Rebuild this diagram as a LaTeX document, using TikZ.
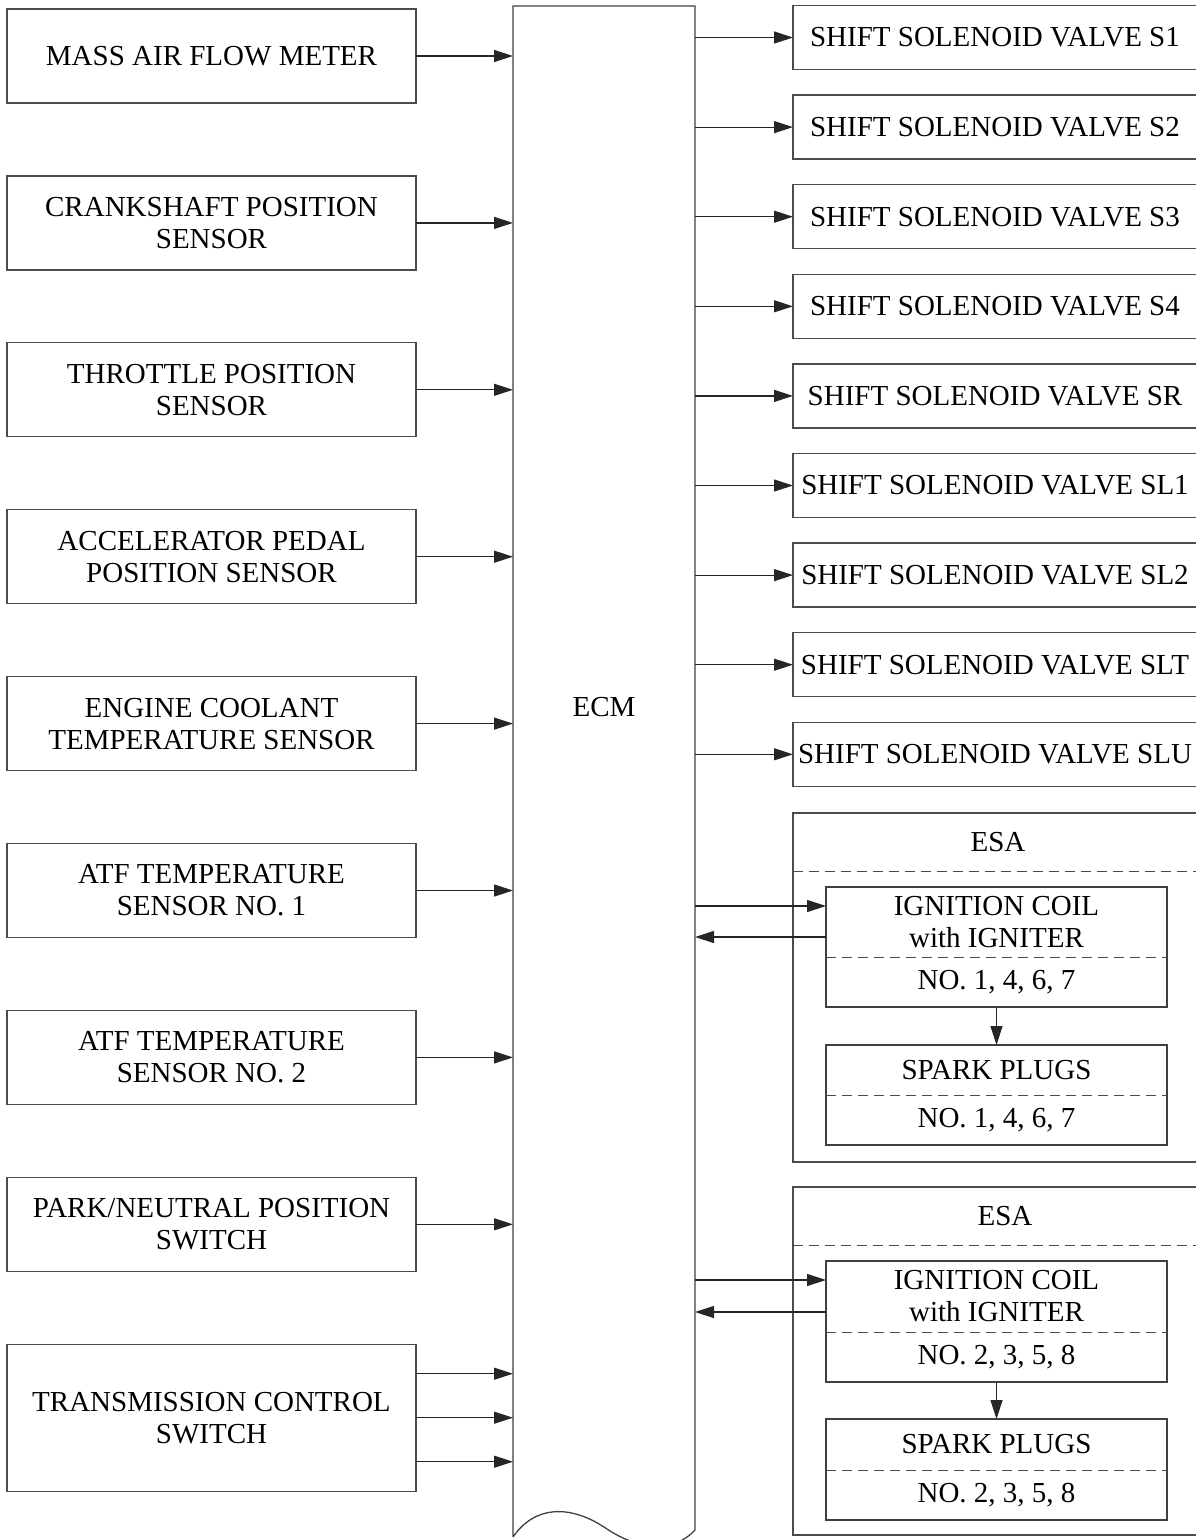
\documentclass[tikz,border=0pt]{standalone}
\usepackage{fontspec}
\setmainfont{Liberation Serif}
\usepackage{tikz}
\usetikzlibrary{arrows.meta, positioning, fit}
\newcommand{\boxfont}{\fontsize{29}{32}\selectfont}
\tikzset{
  sensor/.style = {rectangle, draw=black!70, line width=1.3pt, minimum width=409pt,
                   minimum height=94pt, align=center, font=\boxfont, inner sep=0pt,
                   outer sep=0pt},
  valve/.style  = {rectangle, draw=black!70, line width=1.3pt, minimum width=404pt,
                   minimum height=64pt, align=center, font=\boxfont, inner sep=0pt,
                   outer sep=0pt},
  esa/.style    = {rectangle, draw=black!70, line width=1.3pt, minimum width=410pt,
                   inner sep=0pt, outer sep=0pt},
  part/.style   = {rectangle, minimum width=341pt, align=center, font=\boxfont,
                   inner sep=0pt, outer sep=0pt},
  unit/.style   = {rectangle, draw=black!75, line width=1.3pt, inner sep=0pt, outer sep=0pt},
  sep/.style    = {draw=black!70, line width=1pt, dash pattern=on 10pt off 6pt},
  fl/.style     = {-{Triangle[length=19pt, width=12pt]}, draw=black!85, line width=1.2pt},
}

\begin{document}
\begin{tikzpicture}[x=1pt, y=-1pt, node distance=72.9pt]
  \useasboundingbox (0,0) rectangle (1195,1540);

  % inputs
  \node[sensor] at (211.5,56) (maf)  {MASS AIR FLOW METER};
  \node[sensor, below=of maf]  (ckp)  {CRANKSHAFT POSITION\\SENSOR};
  \node[sensor, below=of ckp]  (tps)  {THROTTLE POSITION\\SENSOR};
  \node[sensor, below=of tps]  (app)  {ACCELERATOR PEDAL\\POSITION SENSOR};
  \node[sensor, below=of app]  (ect)  {ENGINE COOLANT\\TEMPERATURE SENSOR};
  \node[sensor, below=of ect]  (atf1) {ATF TEMPERATURE\\SENSOR NO. 1};
  \node[sensor, below=of atf1] (atf2) {ATF TEMPERATURE\\SENSOR NO. 2};
  \node[sensor, below=of atf2] (pnp)  {PARK/NEUTRAL POSITION\\SWITCH};
  \node[sensor, below=of pnp, minimum height=147pt] (tcs) {TRANSMISSION CONTROL\\SWITCH};

  % ECM
  \node[minimum width=182pt, minimum height=1531pt, inner sep=0pt, outer sep=0pt,
        anchor=north west] at (513,6) (ecm) {};
  \node[font=\boxfont] at (604,707) (ecmlabel) {ECM};
  \draw[draw=black!75, line width=1.3pt] (ecm.south west) -- (ecm.north west) -- (ecm.north east)
    -- ([yshift=7pt]ecm.south east)
    .. controls (675,1552) and (640,1552) .. (604,1527)
    .. controls (570,1505) and (535,1505) .. (ecm.south west);

  % outputs
  \node[valve] at (995,37.5) (s1) {SHIFT SOLENOID VALVE S1};
  \node[valve, below=25.6pt of s1]  (s2)  {SHIFT SOLENOID VALVE S2};
  \node[valve, below=25.6pt of s2]  (s3)  {SHIFT SOLENOID VALVE S3};
  \node[valve, below=25.6pt of s3]  (s4)  {SHIFT SOLENOID VALVE S4};
  \node[valve, below=25.6pt of s4]  (sr)  {SHIFT SOLENOID VALVE SR};
  \node[valve, below=25.6pt of sr]  (sl1) {SHIFT SOLENOID VALVE SL1};
  \node[valve, below=25.6pt of sl1] (sl2) {SHIFT SOLENOID VALVE SL2};
  \node[valve, below=25.6pt of sl2] (slt) {SHIFT SOLENOID VALVE SLT};
  \node[valve, below=25.6pt of slt] (slu) {SHIFT SOLENOID VALVE SLU};

  % ESA, cylinders 1, 4, 6, 7
  \node[esa, anchor=north west, minimum height=349pt] at (793,813) (esa1) {};
  \node[part, minimum width=410pt, minimum height=58pt, anchor=north] at (esa1.north) (esa1t) {ESA};
  \draw[sep] (esa1t.south west) -- (esa1t.south east);
  \node[part, minimum height=70pt, anchor=north] at (996.5,887) (ign1a) {IGNITION COIL\\with IGNITER};
  \node[part, minimum height=50pt, below=0pt of ign1a] (ign1b) {NO. 1, 4, 6, 7};
  \node[unit, fit=(ign1a)(ign1b)] (ign1) {};
  \draw[sep] (ign1a.south west) -- (ign1a.south east);
  \node[part, minimum height=50pt, below=38pt of ign1b] (plug1a) {SPARK PLUGS};
  \node[part, minimum height=50pt, below=0pt of plug1a] (plug1b) {NO. 1, 4, 6, 7};
  \node[unit, fit=(plug1a)(plug1b)] (plug1) {};
  \draw[sep] (plug1a.south west) -- (plug1a.south east);

  % ESA, cylinders 2, 3, 5, 8
  \node[esa, anchor=north west, minimum width=424pt, minimum height=348pt] at (793,1187) (esa2) {};
  \node[part, minimum width=424pt, minimum height=58pt, anchor=north] at (esa2.north) (esa2t) {ESA};
  \draw[sep] (esa2t.south west) -- (esa2t.south east);
  \node[part, minimum height=71pt, anchor=north] at (996.5,1261) (ign2a) {IGNITION COIL\\with IGNITER};
  \node[part, minimum height=50pt, below=0pt of ign2a] (ign2b) {NO. 2, 3, 5, 8};
  \node[unit, fit=(ign2a)(ign2b)] (ign2) {};
  \draw[sep] (ign2a.south west) -- (ign2a.south east);
  \node[part, minimum height=51pt, below=37pt of ign2b] (plug2a) {SPARK PLUGS};
  \node[part, minimum height=50pt, below=0pt of plug2a] (plug2b) {NO. 2, 3, 5, 8};
  \node[unit, fit=(plug2a)(plug2b)] (plug2) {};
  \draw[sep] (plug2a.south west) -- (plug2a.south east);

  % signals into ECM
  \draw[fl] (maf.east)  -- (maf.east -| ecm.west);
  \draw[fl] (ckp.east)  -- (ckp.east -| ecm.west);
  \draw[fl] (tps.east)  -- (tps.east -| ecm.west);
  \draw[fl] (app.east)  -- (app.east -| ecm.west);
  \draw[fl] (ect.east)  -- (ect.east -| ecm.west);
  \draw[fl] (atf1.east) -- (atf1.east -| ecm.west);
  \draw[fl] (atf2.east) -- (atf2.east -| ecm.west);
  \draw[fl] (pnp.east)  -- (pnp.east -| ecm.west);
  \draw[fl] ([yshift=44pt]tcs.east)  -- ([yshift=44pt]tcs.east -| ecm.west);
  \draw[fl] (tcs.east)               -- (tcs.east -| ecm.west);
  \draw[fl] ([yshift=-44pt]tcs.east) -- ([yshift=-44pt]tcs.east -| ecm.west);

  % signals out of ECM
  \draw[fl] (s1.west -| ecm.east)  -- (s1.west);
  \draw[fl] (s2.west -| ecm.east)  -- (s2.west);
  \draw[fl] (s3.west -| ecm.east)  -- (s3.west);
  \draw[fl] (s4.west -| ecm.east)  -- (s4.west);
  \draw[fl] (sr.west -| ecm.east)  -- (sr.west);
  \draw[fl] (sl1.west -| ecm.east) -- (sl1.west);
  \draw[fl] (sl2.west -| ecm.east) -- (sl2.west);
  \draw[fl] (slt.west -| ecm.east) -- (slt.west);
  \draw[fl] (slu.west -| ecm.east) -- (slu.west);

  \draw[fl] ([yshift=-19pt]ign1.north west -| ecm.east) -- ([yshift=-19pt]ign1.north west);
  \draw[fl] ([yshift=-50pt]ign1.north west) -- ([yshift=-50pt]ign1.north west -| ecm.east);
  \draw[fl] (ign1) -- (plug1);
  \draw[fl] ([yshift=-19pt]ign2.north west -| ecm.east) -- ([yshift=-19pt]ign2.north west);
  \draw[fl] ([yshift=-51pt]ign2.north west) -- ([yshift=-51pt]ign2.north west -| ecm.east);
  \draw[fl] (ign2) -- (plug2);
\end{tikzpicture}
\end{document}
